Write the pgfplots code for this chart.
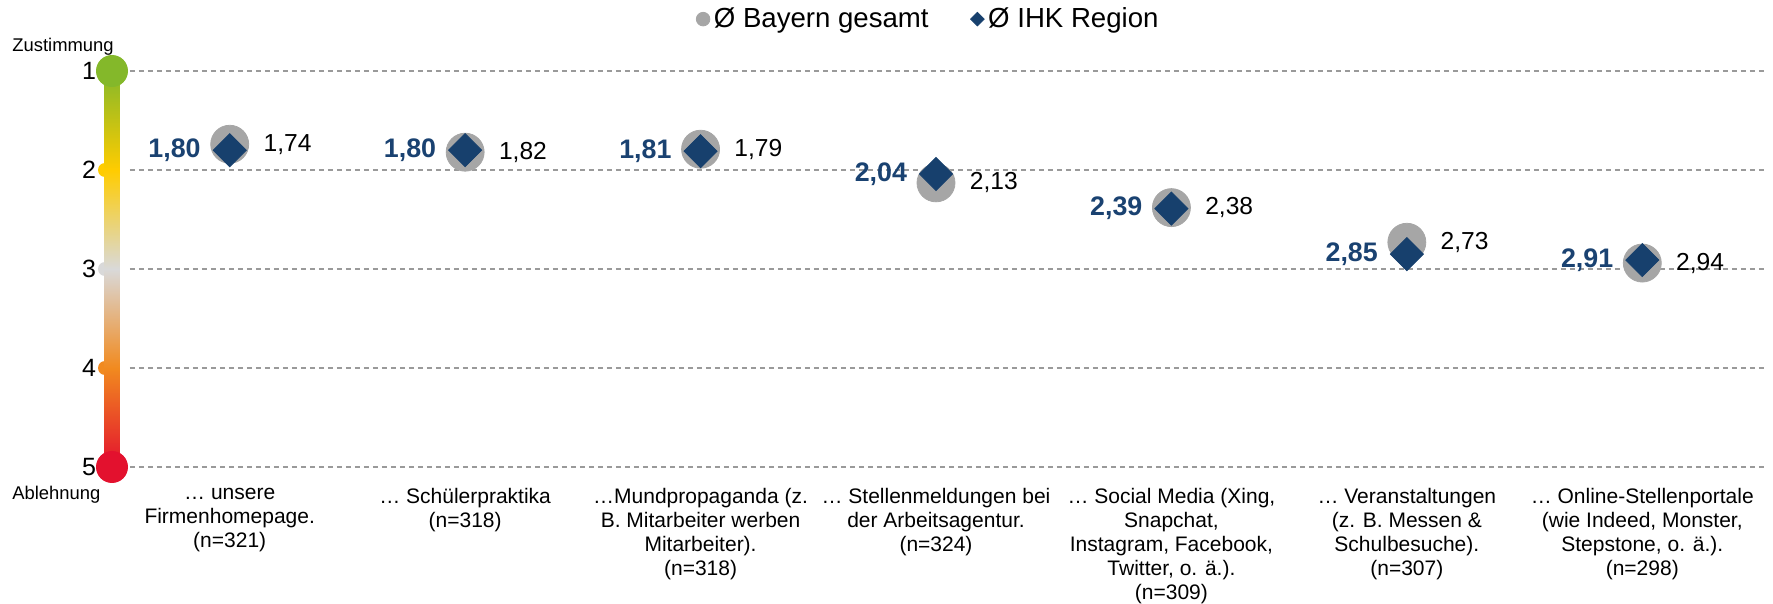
\documentclass[border=0pt]{standalone}
\usepackage{fontspec}
\setmainfont{Liberation Sans}
\usepackage{pgfplots}
\pgfplotsset{compat=1.18}

\definecolor{bayern}{HTML}{A6A6A6}
\definecolor{ihk}{HTML}{17406D}
\definecolor{ihklabel}{HTML}{1A4271}
\definecolor{sgreen}{HTML}{84B82A}
\definecolor{syellow}{HTML}{FFCC00}
\definecolor{sgray}{HTML}{D9D9D9}
\definecolor{sorange}{HTML}{F18A1F}
\definecolor{sred}{HTML}{E3112E}
\definecolor{gridgray}{HTML}{9A9A9A}

\pgfdeclareverticalshading{scalebar}{100bp}{color(0bp)=(sred); color(25bp)=(sred);
  color(37.5bp)=(sorange); color(50bp)=(sgray); color(62.5bp)=(syellow);
  color(75bp)=(sgreen); color(100bp)=(sgreen)}

\pgfplotstableread{
x bayern ihk
0 1.74 1.80
1 1.82 1.80
2 1.79 1.81
3 2.13 2.04
4 2.38 2.39
5 2.73 2.85
6 2.94 2.91
}\scores

\begin{document}
\begin{tikzpicture}
\path[use as bounding box] (0,0) rectangle (886.5pt,302pt);
\begin{axis}[
  at={(56pt,68.5pt)}, anchor=south west,
  scale only axis, width=824pt, height=198pt,
  xmin=-0.5, xmax=6.5, ymin=1, ymax=5, y dir=reverse,
  clip=false,
  axis line style={draw=none},
  major tick length=0pt,
  xtick={0,...,6},
  xticklabels={
    {… unsere\\Firmenhomepage.\\(n=321)},
    {… Schülerpraktika\\(n=318)},
    {…Mundpropaganda (z.\\B. Mitarbeiter werben\\Mitarbeiter).\\(n=318)},
    {… Stellenmeldungen bei\\der Arbeitsagentur.\\(n=324)},
    {… Social Media (Xing,\\Snapchat,\\Instagram, Facebook,\\Twitter, o. ä.).\\(n=309)},
    {… Veranstaltungen\\(z. B. Messen \&\\Schulbesuche).\\(n=307)},
    {… Online-Stellenportale\\(wie Indeed, Monster,\\Stepstone, o. ä.).\\(n=298)}},
  xticklabel style={font=\fontsize{10.5}{12}\selectfont, align=center, anchor=north, yshift=-7pt},
  ytick={1,...,5}, yticklabels={1,2,3,4,5},
  yticklabel style={font=\fontsize{12.5}{14}\selectfont, anchor=east, xshift=-4.5pt},
  legend style={draw=none, fill=none, at={(0.496,1.131)}, anchor=center,
    legend columns=2, font=\fontsize{13.8}{15}\selectfont,
    /tikz/every even column/.append style={column sep=19pt}},
  legend cell align=left,
]
% gridlines
\foreach \k in {1,...,5} {
  \edef\tmp{\noexpand\draw[gridgray, line width=0.6pt, dash pattern=on 2.5pt off 2pt]
    (axis cs:-0.424,\k) -- (axis cs:6.52,\k);}
  \tmp
}
% scale bar
\fill[syellow] ([xshift=-3.5pt]axis cs:-0.5,2) circle (3.5pt);
\fill[sgray]   ([xshift=-3.5pt]axis cs:-0.5,3) circle (3.5pt);
\fill[sorange] ([xshift=-3.5pt]axis cs:-0.5,4) circle (3.5pt);
\shade[shading=scalebar] ([xshift=-3.75pt]axis cs:-0.5,5) rectangle ([xshift=3.75pt]axis cs:-0.5,1);
\fill[sgreen] (axis cs:-0.5,1) circle (8pt);
\fill[sred]   (axis cs:-0.5,5) circle (8pt);

\addplot[only marks, mark=*, mark size=9.5pt, color=bayern,
  nodes near coords={\pgfmathprintnumber[use comma,fixed,fixed zerofill,precision=2,assume math mode=true]{\pgfplotspointmeta}},
  every node near coord/.append style={anchor=west, xshift=13.4pt, text=black, font=\fontsize{12.3}{14}\selectfont},
  legend image code/.code={\draw[mark size=3.4pt, mark=*] plot coordinates {(0pt,0pt)};}]
  table[x=x, y=bayern] {\scores};
\addlegendentry{Ø Bayern gesamt}

\addplot[only marks, mark=square*, mark size=5.85pt, color=ihk, mark options={rotate=45},
  nodes near coords={\pgfmathprintnumber[use comma,fixed,fixed zerofill,precision=2,assume math mode=true]{\pgfplotspointmeta}},
  every node near coord/.append style={anchor=east, xshift=-11pt, text=ihklabel, font=\bfseries\fontsize{13.4}{15}\selectfont},
  legend image code/.code={\draw[mark size=2.4pt, mark=square*, mark options={rotate=45}] plot coordinates {(0pt,0pt)};}]
  table[x=x, y=ihk] {\scores};
\addlegendentry{Ø IHK Region}
\end{axis}
\node[anchor=base west, font=\fontsize{9.2}{10}\selectfont, inner sep=0pt] at (6pt,276pt) {Zustimmung};
\node[anchor=base west, font=\fontsize{9.2}{10}\selectfont, inner sep=0pt] at (6pt,52pt) {Ablehnung};
\end{tikzpicture}
\end{document}
